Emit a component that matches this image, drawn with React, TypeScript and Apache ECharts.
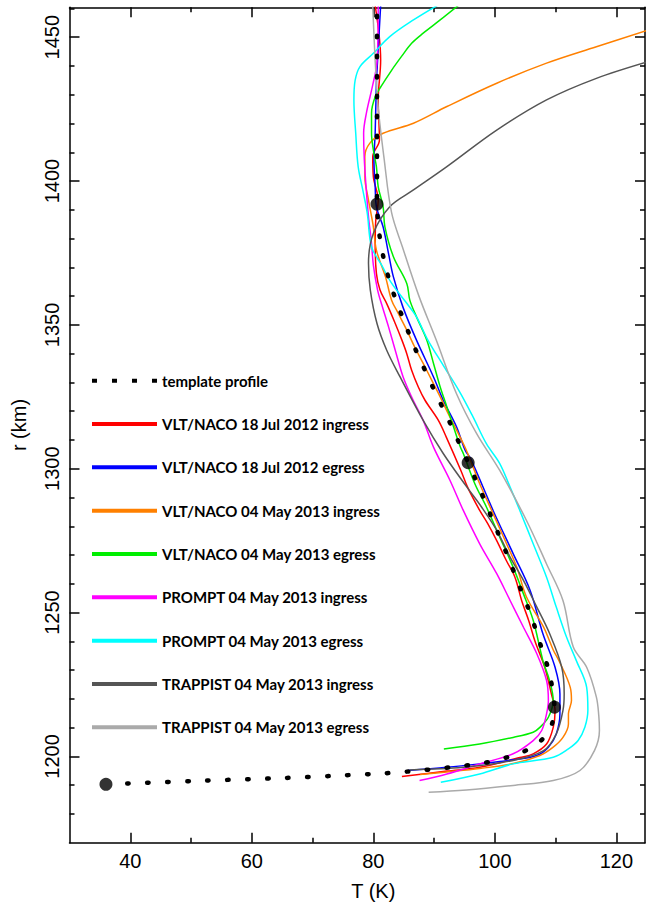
import React, { useEffect, useRef } from "react";
import * as echarts from "echarts";

// ---- axis ticks / labels ----
const xMajorTicks = [40, 60, 80, 100, 120];
const xMinorTicks = [50, 70, 90, 110];
const yMajorTicks = [1200, 1250, 1300, 1350, 1400, 1450];
const yMinorTicks = [1180, 1190, 1210, 1220, 1230, 1240, 1260, 1270, 1280, 1290, 1310, 1320, 1330, 1340, 1360, 1370, 1380, 1390, 1410, 1420, 1430, 1440, 1460];

// ---- series names ----
const seriesNames = [
  "template profile",
  "VLT/NACO 18 Jul 2012 ingress",
  "VLT/NACO 18 Jul 2012 egress",
  "VLT/NACO 04 May 2013 ingress",
  "VLT/NACO 04 May 2013 egress",
  "PROMPT 04 May 2013 ingress",
  "PROMPT 04 May 2013 egress",
  "TRAPPIST 04 May 2013 ingress",
  "TRAPPIST 04 May 2013 egress",
];
const seriesColors = ["#000000", "#ff0000", "#0000ff", "#ff8000", "#00ee00", "#ff00ff", "#00ffff", "#555555", "#aaaaaa"];

// ---- data: [T (K), r (km)] ----
const templateProfile = [
  [39.5, 1190.6], [52.5, 1191.6], [65.5, 1192.5], [73.0, 1193.2], [81.6, 1194.1], [84.9, 1194.6], [88.1, 1195.2],
  [91.4, 1195.9], [94.6, 1196.7], [97.9, 1197.6], [101.0, 1199.1], [104.1, 1201.1], [107.0, 1204.4],
  [109.1, 1209.6], [109.8, 1217.1], [109.5, 1222.9], [108.9, 1229.6], [107.9, 1236.2], [106.9, 1242.8],
  [105.9, 1249.3], [104.7, 1255.7], [103.5, 1262.2], [102.3, 1268.6], [101.1, 1274.8], [99.8, 1281.2],
  [98.6, 1287.5], [97.3, 1293.9], [95.6, 1302.1], [94.7, 1306.4], [93.3, 1312.6], [92.0, 1318.8], [90.5, 1325],
  [89.2, 1331.1], [87.8, 1337.4], [86.5, 1343.6], [85.3, 1350], [84.1, 1356.5], [83.0, 1362.9], [82.1, 1369.5],
  [81.4, 1376.2], [80.9, 1383], [80.6, 1392], [80.6, 1410], [80.6, 1430], [80.6, 1462],
];

const vltNaco2012Ingress = [
  [80.3, 1461], [81.2, 1442.1], [80.8, 1428.2], [81.0, 1414.3], [79.9, 1408.5], [80.0, 1401.5], [80.8, 1393.4],
  [80.4, 1386.4], [80.3, 1378.3], [80.5, 1367.9], [81.1, 1362.1], [82.2, 1357.4], [83.6, 1350.5], [84.7, 1344.7],
  [85.5, 1340], [86.3, 1334.2], [87.4, 1328.4], [88.5, 1323.8], [90.7, 1316.8], [92.0, 1311], [94.4, 1299.4],
  [95.5, 1293.6], [97.5, 1285.5], [98.8, 1281], [100.3, 1275], [101.9, 1268], [103.3, 1262.3], [104.4, 1254.2],
  [105.6, 1247], [106.6, 1240], [108.2, 1231], [109.3, 1221.7], [109.9, 1215.9], [109.6, 1210.1], [108.5, 1204.3],
  [106.3, 1200.9], [104.1, 1199.6], [97.5, 1196.2], [92.1, 1194.9], [84.7, 1193.0],
];

const vltNaco2012Egress = [
  [81.2, 1461], [80.7, 1442], [80.5, 1434], [80.3, 1416.7], [80.1, 1407.3], [80.3, 1398], [80.5, 1391.1],
  [81.6, 1384.1], [82.5, 1374.8], [83.3, 1366.7], [84.9, 1356], [87.1, 1344.7], [89.9, 1331.9], [91.5, 1323.8],
  [93.7, 1314.5], [95.1, 1306.4], [96.0, 1303.5], [99.7, 1285.5], [103.0, 1270.5], [105.8, 1257.7],
  [107.9, 1242.6], [109.9, 1231], [110.7, 1221.7], [110.7, 1214.8], [110.1, 1207.8], [108.8, 1203.2],
  [106.9, 1200.3], [103.0, 1198.8], [97.5, 1197.4], [92.1, 1196.2], [85.7, 1195.1],
];

const vltNaco2013Ingress = [
  [125.5, 1452.7], [116.7, 1446.7], [108.5, 1441], [100.3, 1434], [92.1, 1425.9], [86.6, 1420.1], [81.6, 1416.6],
  [79.4, 1413.1], [78.6, 1408.5], [78.6, 1401.5], [79.2, 1393.4], [80.0, 1384.1], [80.5, 1376], [82.0, 1366.7],
  [83.0, 1358.6], [84.1, 1354], [85.5, 1348.2], [86.8, 1342.3], [88.2, 1336.6], [89.6, 1330.8], [91.0, 1325],
  [92.3, 1319.2], [93.7, 1313.4], [95.3, 1306.4], [97.5, 1294.8], [99.7, 1284.4], [101.9, 1274], [103.6, 1265.8],
  [105.2, 1255.4], [108.0, 1245], [109.6, 1237], [110.6, 1233], [112.4, 1224], [112.6, 1219.4], [112.1, 1214.8],
  [112.1, 1211.3], [111.2, 1206.6], [109.6, 1203.2], [107.4, 1200.3], [103.0, 1197.5], [97.5, 1195.8],
  [92.1, 1194.6], [87.7, 1193.7],
];

const vltNaco2013Egress = [
  [94.3, 1461.6], [91.0, 1456], [88.2, 1451.4], [86.3, 1447.9], [84.7, 1443.5], [83.0, 1438.5],
  [81.3, 1433], [80.3, 1429.3], [79.7, 1423.6], [79.7, 1416.6], [80.0, 1410.8], [80.5, 1405], [80.8, 1398],
  [81.6, 1391.1], [81.9, 1384.1], [83.3, 1373.7], [85.5, 1364.4], [86.0, 1358.6], [87.1, 1352.8], [88.8, 1344.7],
  [89.9, 1336.6], [91.0, 1328.4], [92.1, 1321.5], [93.2, 1314.5], [94.3, 1307.6], [94.8, 1305.3], [96.7, 1294.8],
  [98.6, 1286.7], [100.8, 1276.2], [103.0, 1265.8], [104.7, 1256.5], [106.3, 1247.3], [107.9, 1233.3],
  [109.0, 1226.3], [109.6, 1219.4], [108.8, 1213.6], [107.4, 1210.1], [106.3, 1208.4], [103.0, 1206.6],
  [97.5, 1204.3], [91.6, 1202.6],
];

const prompt2013Ingress = [
  [80.8, 1461], [80.6, 1441.4], [79.9, 1433.4], [78.9, 1424.1], [78.4, 1416.6], [78.5, 1408], [78.8, 1398],
  [79.2, 1387.6], [79.7, 1378.3], [80.0, 1370.8], [80.7, 1362.1], [81.4, 1356.9], [82.5, 1349.3], [83.6, 1341.2],
  [84.9, 1331.9], [86.4, 1324.5], [88.2, 1316.8], [89.9, 1307.5], [92.6, 1296], [94.8, 1285.5], [97.5, 1273.9],
  [100.3, 1263.5], [102.5, 1254.2], [104.7, 1244.9], [106.9, 1235.7], [108.5, 1226.4], [108.8, 1219.4],
  [108.5, 1214.8], [107.7, 1209], [106.3, 1205.5], [103.0, 1200.9], [97.5, 1197.4], [92.1, 1193.9], [87.6, 1191.6],
];

const prompt2013Egress = [
  [90.5, 1461], [86.6, 1456], [82.7, 1450.2], [80.0, 1444.4], [77.8, 1439.8], [77.0, 1435], [76.8, 1428.2],
  [77.1, 1416.6], [77.5, 1405], [78.3, 1396.5], [79.0, 1388.8], [79.7, 1377.1], [81.3, 1371], [83.0, 1364.5],
  [85.5, 1357.5], [87.1, 1352.8], [88.9, 1345], [91.6, 1335.6], [94.2, 1326.7], [96.4, 1318], [98.6, 1308.7],
  [100.8, 1301.8], [102.5, 1293.6], [104.1, 1285.5], [106.3, 1273.9], [108.5, 1262.3], [110.1, 1251.9],
  [111.8, 1241.4], [113.4, 1233.3], [115.1, 1224], [115.3, 1216], [114.8, 1210.1], [113.7, 1205.5],
  [112.1, 1202.6], [109.6, 1199.7], [103.0, 1197.4], [97.5, 1193.9], [91.1, 1191],
];

const trappist2013Ingress = [
  [125.5, 1441.7], [116.7, 1435.7], [108.5, 1428.2], [100.3, 1417.7], [92.1, 1405], [86.6, 1396.9],
  [82.7, 1391.1], [80.0, 1381.8], [79.2, 1371.4], [79.5, 1362.1], [80.6, 1350.5], [82.2, 1341.2], [84.4, 1331.9],
  [88.2, 1316.8], [91.5, 1305.3], [95.4, 1293.6], [97.8, 1286.7], [100.3, 1278.6], [102.5, 1269.3],
  [104.7, 1261.2], [106.9, 1251.9], [109.0, 1242.7], [111.0, 1231], [111.4, 1221.8], [111.2, 1216],
  [110.1, 1207.8], [108.0, 1202], [103.0, 1198.6], [94.8, 1196.2], [86.0, 1195.3],
];

const trappist2013Egress = [
  [79.9, 1461], [80.7, 1428], [81.8, 1407.3], [83.0, 1389], [84.8, 1377], [87.5, 1360], [90.3, 1345],
  [93.7, 1326], [97.0, 1312.2], [100.8, 1299.4], [105.2, 1282], [108.5, 1266.9], [111.2, 1254.2], [112.9, 1238],
  [115.1, 1231], [116.7, 1220.6], [117.1, 1214], [117.2, 1209], [116.4, 1202.1], [114.0, 1195.1],
  [109.6, 1191.6], [103.0, 1189.9], [95.3, 1188.3], [89.1, 1187.5],
];

// big black marker points of the template
const templateNodes = [
  [36.0, 1190.3], [80.6, 1392], [95.6, 1302.1], [109.8, 1217.1],
];

const measuredProfiles = [
  vltNaco2012Ingress, vltNaco2012Egress, vltNaco2013Ingress, vltNaco2013Egress,
  prompt2013Ingress, prompt2013Egress, trappist2013Ingress, trappist2013Egress,
];

const AXIS_FONT = "Liberation Sans";

export default function App() {
  const ref = useRef<HTMLDivElement>(null);

  useEffect(() => {
    if (!ref.current) return;
    const chart = echarts.init(ref.current, null, { renderer: "svg" });

    const black = "#000";
    const axisLine = { show: true, onZero: false, lineStyle: { color: black, width: 1.5 } };
    const tickStyle = { color: black, width: 1.5 };
    const xMin = 30, xMax = 124.7, yMin = 1170, yMax = 1460.4;
    const plain = (v: number) => String(v);

    const mkX = (position: string, major: boolean, line: boolean, labels: boolean): any => ({
      type: "value",
      position,
      min: xMin,
      max: xMax,
      gridIndex: 0,
      axisLine: line ? axisLine : { show: false },
      axisTick: { show: true, inside: true, length: major ? 10 : 5, customValues: major ? xMajorTicks : xMinorTicks, lineStyle: tickStyle },
      axisLabel: labels
        ? { show: true, customValues: xMajorTicks, formatter: plain, color: black, fontSize: 20, fontFamily: AXIS_FONT, margin: 8 }
        : { show: false },
      splitLine: { show: false },
      minorTick: { show: false },
    });
    const mkY = (position: string, major: boolean, line: boolean, labels: boolean): any => ({
      type: "value",
      position,
      min: yMin,
      max: yMax,
      gridIndex: 0,
      axisLine: line ? axisLine : { show: false },
      axisTick: { show: true, inside: true, length: major ? 10 : 5, customValues: major ? yMajorTicks : yMinorTicks, lineStyle: tickStyle },
      axisLabel: labels
        ? { show: true, customValues: yMajorTicks, formatter: plain, rotate: 90, color: black, fontSize: 20, fontFamily: AXIS_FONT, margin: 8 }
        : { show: false },
      splitLine: { show: false },
      minorTick: { show: false },
    });

    const xAxes = [mkX("bottom", true, true, true), mkX("bottom", false, false, false), mkX("top", true, true, false), mkX("top", false, false, false)];
    xAxes[0].name = "T (K)";
    xAxes[0].nameLocation = "middle";
    xAxes[0].nameGap = 38;
    xAxes[0].nameTextStyle = { color: black, fontSize: 20, fontFamily: AXIS_FONT, padding: [0, 0, 0, 32] };

    const yAxes = [mkY("left", true, true, true), mkY("left", false, false, false), mkY("right", true, true, false), mkY("right", false, false, false)];
    yAxes[0].name = "r (km)";
    yAxes[0].nameLocation = "middle";
    yAxes[0].nameRotate = 90;
    yAxes[0].nameGap = 41;
    yAxes[0].nameTextStyle = { color: black, fontSize: 20, fontFamily: AXIS_FONT };

    const series: any[] = measuredProfiles.map((data, i) => ({
      name: seriesNames[i + 1],
      type: "line",
      xAxisIndex: 0,
      yAxisIndex: 0,
      data,
      smooth: 0.35,
      symbol: "none",
      clip: true,
      itemStyle: { color: seriesColors[i + 1] },
      lineStyle: { color: seriesColors[i + 1], width: 1.5 },
      z: 2,
    }));
    series.push({
      name: seriesNames[0],
      type: "line",
      xAxisIndex: 0,
      yAxisIndex: 0,
      data: templateProfile,
      smooth: 0.3,
      symbol: "none",
      clip: true,
      itemStyle: { color: black },
      lineStyle: { color: black, width: 4.5, type: [1.5, 18.5], cap: "round" },
      z: 3,
    });
    series.push({
      name: "template nodes",
      type: "scatter",
      xAxisIndex: 0,
      yAxisIndex: 0,
      data: templateNodes,
      symbol: "circle",
      symbolSize: 13,
      itemStyle: { color: black },
      z: 4,
    });

    const legendData = seriesNames.map((name, i) =>
      i === 0
        ? { name, icon: "path://M0,0h5v4h-5z M20,0h5v4h-5z M40,0h5v4h-5z M60,0h5v4h-5z" }
        : { name, icon: "rect" }
    );

    chart.setOption({
      animation: false,
      grid: { left: 69.5, right: 2, top: 7.3, bottom: 62.3, outerBoundsMode: "none", containLabel: false },
      legend: {
        show: true,
        orient: "vertical",
        left: 92,
        top: 372.7,
        padding: 0,
        itemWidth: 65,
        itemHeight: 4,
        itemGap: 27.33,
        itemTextGap: 9,
        selectedMode: false,
        data: legendData,
        textStyle: { color: black, fontFamily: "Lato", fontWeight: "bold", fontSize: 15, lineHeight: 16 },
      },
      xAxis: xAxes,
      yAxis: yAxes,
      series,
    });

    return () => chart.dispose();
  }, []);

  return (
    <div
      ref={ref}
      style={{ position: "fixed", left: 0, top: 0, width: 647, height: 905, background: "#fff" }}
    />
  );
}
